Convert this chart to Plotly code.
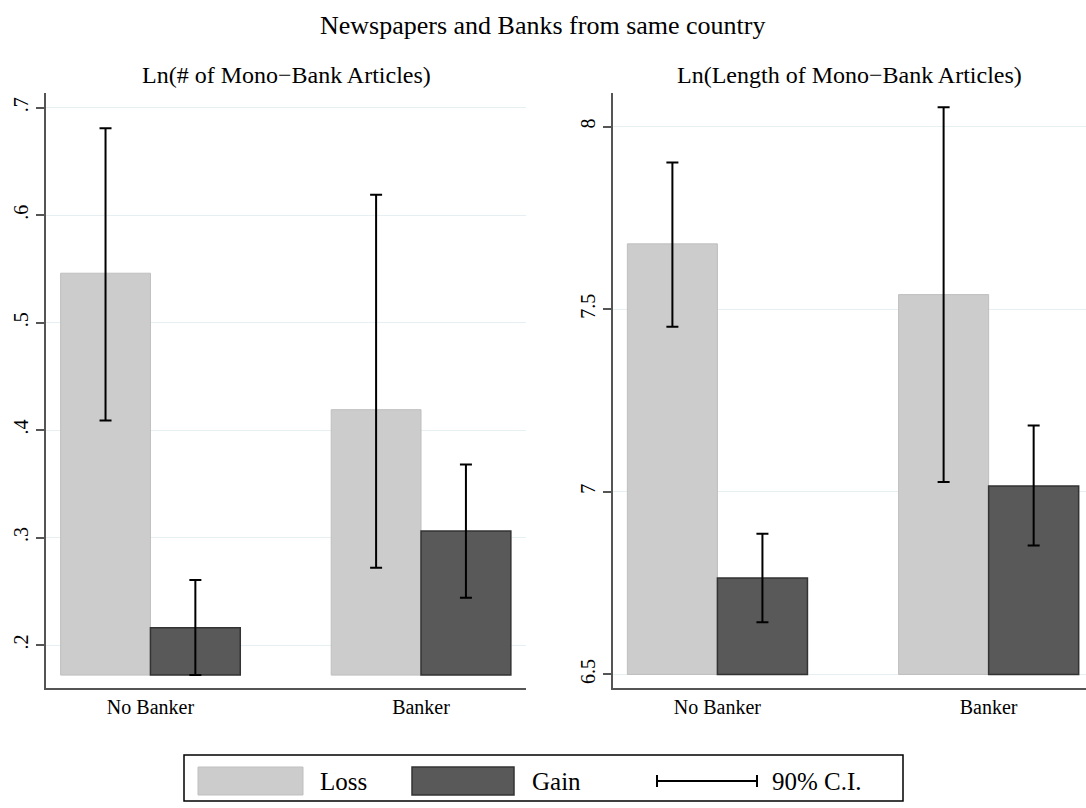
import plotly.graph_objects as go

# ---------------- data ----------------
categories = ["No Banker", "Banker"]

# Left panel: Ln(# of Mono-Bank Articles)
num_loss = [0.546, 0.419]
num_loss_lo = [0.409, 0.272]
num_loss_hi = [0.681, 0.619]
num_gain = [0.216, 0.306]
num_gain_lo = [0.172, 0.244]
num_gain_hi = [0.2605, 0.368]
num_base = 0.172
num_ticks = [0.2, 0.3, 0.4, 0.5, 0.6, 0.7]
num_ticktext = [".2", ".3", ".4", ".5", ".6", ".7"]

# Right panel: Ln(Length of Mono-Bank Articles)
len_loss = [7.679, 7.540]
len_loss_lo = [7.452, 7.027]
len_loss_hi = [7.902, 8.053]
len_gain = [6.764, 7.016]
len_gain_lo = [6.643, 6.853]
len_gain_hi = [6.885, 7.182]
len_base = 6.5
len_ticks = [6.5, 7, 7.5, 8]
len_ticktext = ["6.5", "7", "7.5", "8"]

title = "Newspapers and Banks from same country"
sub_titles = ["Ln(# of Mono\u2212Bank Articles)", "Ln(Length of Mono\u2212Bank Articles)"]
legend_labels = ["Loss", "Gain", "90% C.I."]

# ---------------- styling ----------------
W, H = 1086, 808
FONT = "Liberation Serif, Times New Roman, serif"
LOSS_FILL, LOSS_LINE = "#cccccc", "#bfbfbf"
GAIN_FILL, GAIN_LINE = "#595959", "#333333"
GRID = "#e6eff2"
AXIS = "#555555"
BW = 0.332  # bar width in category units

fig = go.Figure()
idx = list(range(len(categories)))


def add_panel(xa, ya, loss, llo, lhi, gain, glo, ghi, base):
    xl = [i - BW / 2 for i in idx]
    xg = [i + BW / 2 for i in idx]
    fig.add_trace(go.Bar(x=xl, y=[v - base for v in loss], base=base, width=BW,
                         marker=dict(color=LOSS_FILL, line=dict(color=LOSS_LINE, width=1)),
                         xaxis=xa, yaxis=ya, showlegend=False, hoverinfo="skip"))
    fig.add_trace(go.Bar(x=xg, y=[v - base for v in gain], base=base, width=BW,
                         marker=dict(color=GAIN_FILL, line=dict(color=GAIN_LINE, width=1.5)),
                         xaxis=xa, yaxis=ya, showlegend=False, hoverinfo="skip"))
    for xs, m, lo, hi in ((xl, loss, llo, lhi), (xg, gain, glo, ghi)):
        fig.add_trace(go.Scatter(
            x=xs, y=m, mode="markers", marker=dict(size=1, opacity=0),
            error_y=dict(type="data", symmetric=False,
                         array=[h - v for h, v in zip(hi, m)],
                         arrayminus=[v - l for v, l in zip(m, lo)],
                         color="black", thickness=2, width=6),
            xaxis=xa, yaxis=ya, showlegend=False, hoverinfo="skip"))


add_panel("x", "y", num_loss, num_loss_lo, num_loss_hi, num_gain, num_gain_lo, num_gain_hi, num_base)
add_panel("x2", "y2", len_loss, len_loss_lo, len_loss_hi, len_gain, len_gain_lo, len_gain_hi, len_base)

ydom = [120 / H, 715 / H]
xcommon = dict(tickmode="array", tickvals=idx, ticktext=categories, showgrid=False,
               zeroline=False, showline=True, linecolor=AXIS, linewidth=1.5, ticks="",
               tickfont=dict(family=FONT, size=20, color="black"))
ycommon = dict(showgrid=True, gridcolor=GRID, gridwidth=1.2, zeroline=False,
               showline=True, linecolor=AXIS, linewidth=1.5, ticks="outside",
               ticklen=8, tickwidth=1.5, tickcolor=AXIS, tickangle=-90,
               tickfont=dict(family=FONT, size=20, color="black"), tickmode="array")

fig.update_layout(
    width=W, height=H, paper_bgcolor="white", plot_bgcolor="white",
    margin=dict(l=0, r=0, t=0, b=0), barmode="overlay", showlegend=False,
    font=dict(family=FONT, color="black"),
    xaxis=dict(domain=[46 / W, 526 / W], range=[-0.386, 1.388], anchor="y", **xcommon),
    xaxis2=dict(domain=[613 / W, 1.0], range=[-0.385, 1.359], anchor="y2", **xcommon),
    yaxis=dict(domain=ydom, range=[0.16, 0.7137], anchor="x",
               tickvals=num_ticks, ticktext=num_ticktext, **ycommon),
    yaxis2=dict(domain=ydom, range=[6.463, 8.092], anchor="x2",
                tickvals=len_ticks, ticktext=len_ticktext, **ycommon),
)

# titles
ann = [
    dict(x=543 / W, y=1 - 25 / H, text=title, font=dict(size=26)),
    dict(x=286 / W, y=1 - 75 / H, text=sub_titles[0], font=dict(size=24)),
    dict(x=849.5 / W, y=1 - 75 / H, text=sub_titles[1], font=dict(size=24)),
]


def px(x):
    return x / W


def py(y):
    return 1 - y / H


# manual legend
shapes = [
    dict(type="rect", xref="paper", yref="paper", x0=px(184), x1=px(903), y0=py(801), y1=py(755),
         line=dict(color="black", width=1.5), fillcolor="rgba(0,0,0,0)"),
    dict(type="rect", xref="paper", yref="paper", x0=px(198), x1=px(303), y0=py(795), y1=py(767),
         line=dict(color=LOSS_LINE, width=1), fillcolor=LOSS_FILL),
    dict(type="rect", xref="paper", yref="paper", x0=px(412), x1=px(514), y0=py(795), y1=py(767),
         line=dict(color=GAIN_LINE, width=1.5), fillcolor=GAIN_FILL),
    dict(type="line", xref="paper", yref="paper", x0=px(657), x1=px(757), y0=py(781), y1=py(781),
         line=dict(color="black", width=2)),
    dict(type="line", xref="paper", yref="paper", x0=px(657), x1=px(657), y0=py(775), y1=py(787),
         line=dict(color="black", width=2)),
    dict(type="line", xref="paper", yref="paper", x0=px(757), x1=px(757), y0=py(775), y1=py(787),
         line=dict(color="black", width=2)),
]
for lbl, xpos in zip(legend_labels, [318, 530, 770]):
    ann.append(dict(x=px(xpos), y=py(781), text=lbl, xanchor="left", font=dict(size=25)))

for a in ann:
    a.setdefault("xanchor", "center")
    a.update(xref="paper", yref="paper", yanchor="middle", showarrow=False)
    a["font"] = dict(family=FONT, color="black", size=a["font"]["size"])

fig.update_layout(annotations=ann, shapes=shapes)
fig.write_html("out.html", config={"displayModeBar": False},
               post_script="document.body.style.margin='0px';document.body.style.overflow='hidden';")
